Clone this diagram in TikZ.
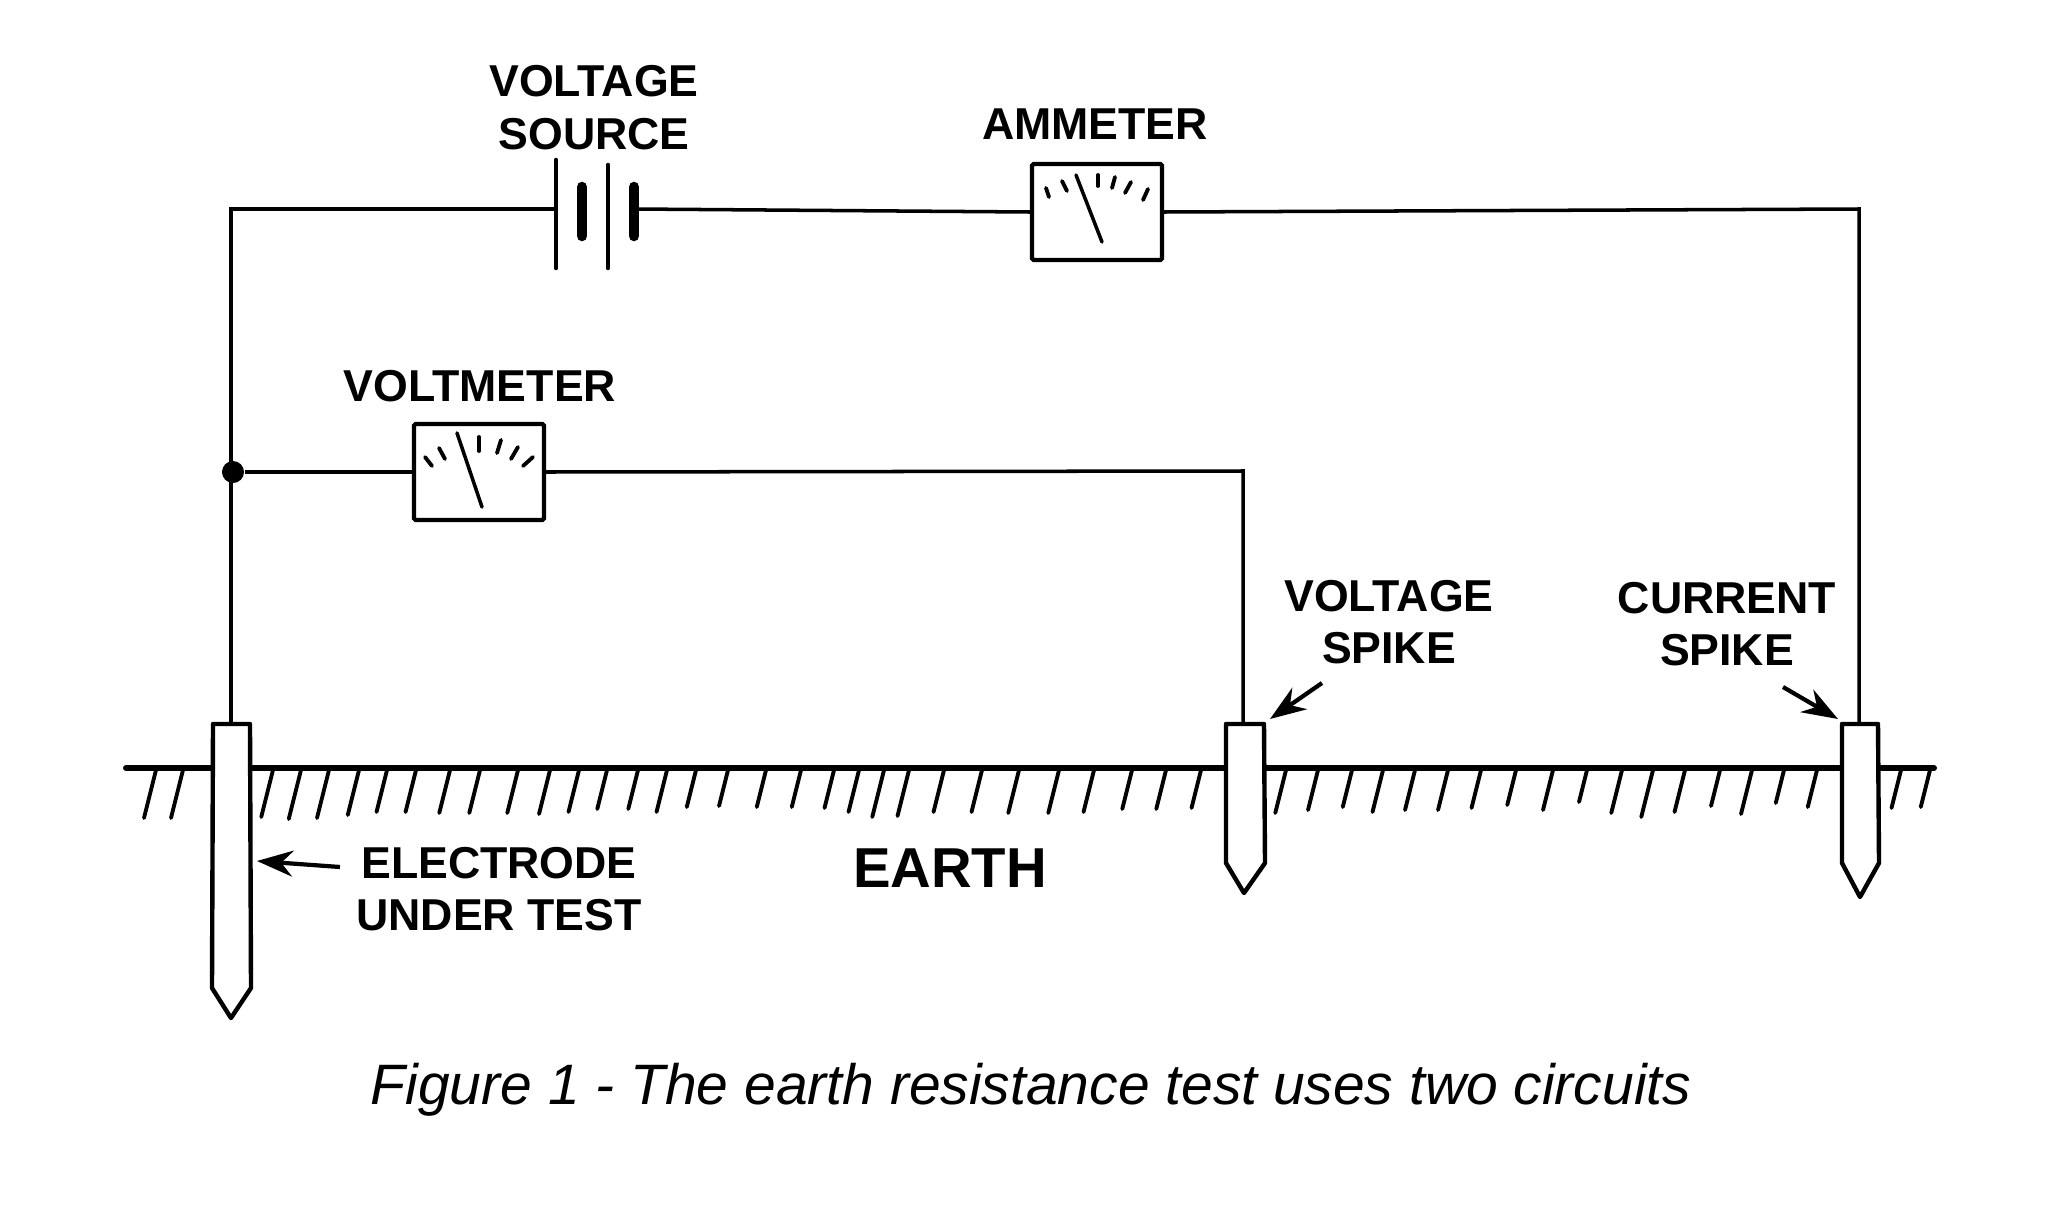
\documentclass[tikz,border=0pt]{standalone}
\usepackage{fontspec}
\setmainfont{Liberation Sans}
\usetikzlibrary{arrows.meta}

\tikzset{
    wire/.style={line width=1pt},
    meter/.style={draw, line width=1.2pt, rounded corners=0.5pt, minimum width=1.3cm, minimum height=0.96cm, inner sep=0pt},
    needle/.style={line width=1pt, line cap=round},
    scalemark/.style={line width=1.1pt, line cap=round},
    label/.style={font=\fontsize{12.7}{15}\selectfont\bfseries, align=center, inner sep=0pt},
    pointer/.style={line width=1.2pt, -{Stealth[length=3.6mm, width=2.6mm]}},
    spike/.style={draw, fill=white, line width=1.25pt, line join=round},
    hatch/.style={line width=1.1pt, line cap=round}
}

\begin{document}
\begin{tikzpicture}[x=0.01cm, y=-0.01cm]
        \useasboundingbox (0,0) rectangle (2048,1209);

        % Ground line and its hatching, the spikes go over them
        \coordinate (groundL) at (126,768);
        \coordinate (groundR) at (1934,768);
        \draw [line width=1.7pt, line cap=round] (groundL) -- (groundR);
        \foreach \x/\yb in {156/818,183/818,273/817,301/819,329/818,359/815,387/812,416/812,450/813,480/813,518/813,550/814,579/812,607/809,638/809,667/812,696/807,728/806,766/807,801/807,834/808,859/812,884/817,909/816,944/812,982/812,1019/813,1059/813,1094/812,1132/809,1166/809,1201/808,1286/813,1318/810,1352/807,1383/812,1415/810,1448/810,1481/808,1516/805,1553/810,1587/802,1622/813,1653/817,1685/812,1720/806,1752/814,1784/803,1817/807,1901/808,1930/807}{%
            \draw [hatch] (\x,770) -- ({\x-0.25*(\yb-770)},\yb);
        }

        % Electrode and the two spikes
        \draw [spike] (213,724) -- (250,724) -- (251,988) -- (231,1018) -- (212,988) -- cycle;
        \draw [spike] (1226,724) -- (1264,724) -- (1265,863) -- (1244,893) -- (1226,863) -- cycle;
        \draw [spike] (1842,724) -- (1878,724) -- (1879,863) -- (1860,897) -- (1842,863) -- cycle;
        \coordinate (electrode) at (231,724);
        \coordinate (vspike) at (1243,724);
        \coordinate (cspike) at (1859,724);

        % Corners of the wires
        \coordinate (cornerL) at (231,209);
        \coordinate (cornerR) at (1859,209);
        \coordinate (cornerV) at (1243,471);
        \coordinate (plateA) at (556,209);
        \coordinate (plateD) at (634,209);
        \node [circle, fill, minimum size=0.22cm, inner sep=0pt] (junction) at (233,472) {};

        % Meters
        \node [meter] (ammeter) at (1097,212) {};
        \node [meter] (voltmeter) at (479,472) {};

        % Wires
        \draw [wire] (plateA) -- (cornerL) -- (electrode);
        \draw [wire] (plateD) -- (ammeter.west);
        \draw [wire] (ammeter.east) -- (cornerR) -- (cspike);
        \draw [wire] (junction) -- (voltmeter.west);
        \draw [wire] (voltmeter.east) -- (cornerV) -- (vspike);

        % Voltage source
        \draw [line width=1.3pt, line cap=round] (556,160) -- (plateA) -- (556,268);
        \draw [line width=1.3pt, line cap=round] (608,165) -- (608,268);
        \draw [line width=3pt, line cap=round] (582,187) -- (582,236);
        \draw [line width=3pt, line cap=round] (plateD) ++(0,-22) -- ++(0,49);

        % Meter faces
        \draw [needle] (1076,175) -- (1102,242);
        \foreach \a/\b/\c/\d in {1046/188/1049/197,1062/181/1067/191,1098/175/1098/186,1115/177/1112/188,1131/182/1125/193,1148/189/1143/200}{%
            \draw [scalemark] (\a,\b) -- (\c,\d);
        }
        \draw [needle] (457,433) -- (482,507);
        \foreach \a/\b/\c/\d in {425/457/432/466,439/448/445/459,479/437/479/451,501/440/497/453,518/447/511/459,533/457/523/466}{%
            \draw [scalemark] (\a,\b) -- (\c,\d);
        }

        % Labels
        \node [label] (sourcelabel) at (594,108) {VOLTAGE\\SOURCE};
        \node [label] (ammeterlabel) at (1095,124) {AMMETER};
        \node [label] (voltmeterlabel) at (480,386) {VOLTMETER};
        \node [label] (vspikelabel) at (1389,622) {VOLTAGE\\SPIKE};
        \node [label] (cspikelabel) at (1727,624) {CURRENT\\SPIKE};
        \node [label] (electrodelabel) at (499,889) {ELECTRODE\\UNDER TEST};
        \node [label, font=\fontsize{16}{19}\selectfont\bfseries] (earthlabel) at (950,868) {EARTH};
        \node [inner sep=0pt, font=\fontsize{16.2}{19}\selectfont\itshape] (caption) at (1031,1090) {Figure 1 - The earth resistance test uses two circuits};

        % Pointers
        \coordinate (vspiketip) at (1270,719);
        \coordinate (cspiketip) at (1838,719);
        \coordinate (electrodetip) at (257,861);
        \draw [pointer] (1322,683) -- (vspiketip);
        \draw [pointer] (1783,687) -- (cspiketip);
        \draw [pointer] (340,867) -- (electrodetip);
    \end{tikzpicture}
\end{document}
